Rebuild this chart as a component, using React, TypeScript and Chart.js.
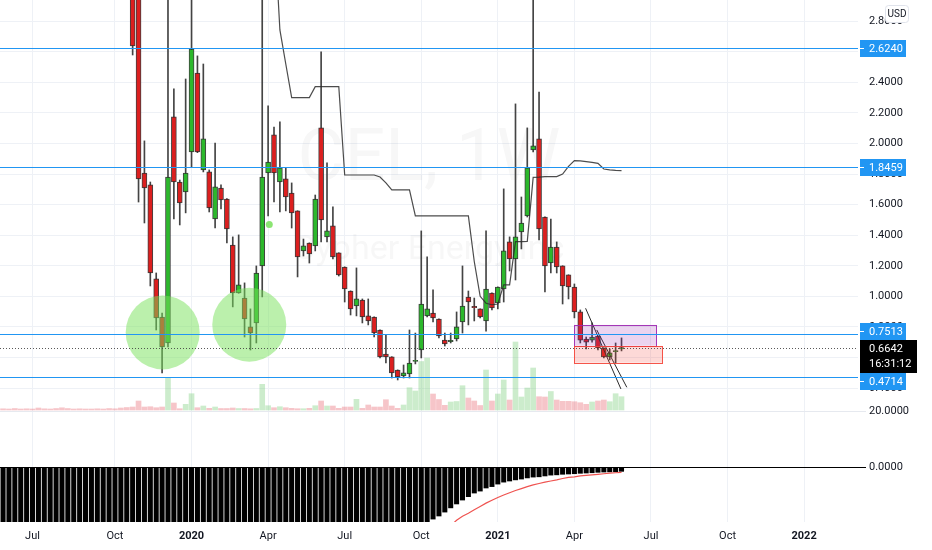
import { useEffect, useRef } from 'react';
import { Chart, registerables } from 'chart.js';

Chart.register(...registerables);

// week index 0 = week of 1 Jul 2019, one candle per week
const symbolTitle = 'CEL, 1W';
const symbolName = 'Cypher Energy Inc';

const firstCandleWeek = 17;
const opens = [
  3.25, 3.0, 1.807, 1.729, 1.114, 0.865, 0.695, 2.174, 1.748, 1.683,
  1.945, 2.461, 1.827, 1.814, 1.506, 1.709, 1.637, 1.336, 1.022, 0.989,
  0.8, 0.826, 1.199, 1.807, 2.056, 1.748, 1.768, 1.676, 1.559, 1.297,
  1.349, 1.33, 2.102, 1.389, 1.461, 1.284, 1.192, 1.035, 0.937, 0.976,
  0.872, 0.865, 0.78, 0.623, 0.604, 0.518, 0.479, 0.492, 0.574, 0.649,
  0.872, 0.891, 0.852, 0.714, 0.704, 0.721, 0.832, 0.996, 0.934, 0.918,
  0.839, 1.022, 0.957, 1.048, 1.356, 1.245, 1.421, 1.526, 1.958, 2.03,
  1.519, 1.218, 1.323, 1.199, 1.14, 1.061, 0.898, 0.721, 0.714, 0.74,
  0.662, 0.604, 0.638, 0.656,
];
const highs = [
  3.35, 3.1, 2.017, 1.748, 1.153, 0.891, 3.2, 2.357, 1.761, 2.422,
  3.1, 2.573, 2.52, 1.827, 2.003, 1.729, 1.64, 1.389, 1.402, 1.088,
  0.918, 1.199, 3.0, 2.246, 2.108, 2.141, 1.84, 1.742, 1.56, 1.375,
  1.35, 1.663, 2.599, 1.873, 1.585, 1.285, 1.193, 1.036, 1.186, 0.983,
  0.983, 0.866, 0.781, 0.747, 0.605, 0.519, 0.551, 0.78, 0.76, 1.428,
  1.258, 1.042, 0.853, 0.76, 0.76, 0.898, 1.199, 1.035, 0.989, 0.919,
  1.428, 1.023, 1.062, 1.703, 1.389, 2.259, 1.65, 2.102, 3.0, 2.337,
  1.52, 1.506, 1.356, 1.2, 1.141, 1.081, 0.911, 0.734, 0.826, 0.741,
  0.663, 0.656, 0.695, 0.728,
];
const lows = [
  2.579, 1.617, 1.48, 1.068, 0.78, 0.499, 0.669, 1.506, 1.467, 1.546,
  1.846, 1.94, 1.814, 1.552, 1.447, 1.572, 1.349, 0.931, 1.02, 0.734,
  0.649, 0.695, 0.996, 1.526, 1.617, 1.552, 1.559, 1.447, 1.127, 1.264,
  1.218, 1.297, 1.356, 1.356, 1.245, 1.133, 0.963, 0.878, 0.872, 0.826,
  0.813, 0.734, 0.597, 0.564, 0.466, 0.453, 0.466, 0.466, 0.558, 0.597,
  0.865, 0.832, 0.728, 0.675, 0.695, 0.708, 0.76, 0.813, 0.839, 0.859,
  0.773, 0.911, 0.918, 0.963, 1.166, 1.107, 1.31, 1.519, 1.945, 1.369,
  1.029, 1.153, 1.153, 0.95, 0.983, 0.859, 0.695, 0.656, 0.701, 0.649,
  0.597, 0.584, 0.564, 0.643,
];
const closes = [
  2.638, 1.768, 1.709, 1.153, 0.859, 0.669, 1.781, 1.748, 1.611, 1.807,
  2.618, 1.945, 2.03, 1.578, 1.716, 1.631, 1.441, 1.022, 1.075, 0.852,
  0.76, 1.153, 1.781, 1.879, 1.807, 1.84, 1.65, 1.546, 1.258, 1.33,
  1.277, 1.637, 1.5, 1.428, 1.258, 1.14, 1.048, 0.918, 0.983, 0.865,
  0.839, 0.76, 0.604, 0.604, 0.499, 0.473, 0.499, 0.564, 0.582, 0.95,
  0.918, 0.859, 0.741, 0.688, 0.712, 0.8, 0.937, 0.963, 0.926, 0.865,
  1.048, 0.924, 1.061, 1.297, 1.245, 1.389, 1.48, 1.84, 1.984, 1.441,
  1.199, 1.323, 1.192, 1.068, 1.061, 0.898, 0.714, 0.701, 0.734, 0.662,
  0.604, 0.63, 0.646, 0.6642,
];

// weekly volume, millions
const firstVolumeWeek = -6;
const volumes = [
  0.1, 0.12, 0.1, 0.15, 0.1, 0.12, 0.1, 0.2, 0.12, 0.1,
  0.15, 0.22, 0.15, 0.1, 0.12, 0.1, 0.1, 0.12, 0.1, 0.15,
  0.12, 0.2, 0.25,
  0.3, 0.9, 0.3, 0.33, 0.23, 0.3, 3.17, 0.7, 0.13, 0.57,
  1.63, 0.23, 0.4, 0.17, 0.3, 0.15, 0.15, 0.2, 0.15, 0.15,
  0.12, 0.15, 2.57, 0.43, 0.23, 0.33, 0.23, 0.17, 0.13, 0.13,
  0.17, 0.43, 0.9, 0.4, 0.4, 0.17, 0.3, 0.3, 1.07, 0.17,
  0.5, 0.3, 0.3, 1.03, 0.4, 0.17, 0.5, 2.23, 1.9, 4.85,
  5.2, 1.6, 1.05, 0.47, 0.8, 0.85, 2.43, 1.2, 0.9, 0.45,
  4.0, 0.9, 1.6, 3.0, 1.0, 6.8, 1.3, 2.2, 4.2, 1.33,
  1.3, 1.85, 1.0, 0.87, 0.87, 0.83, 0.73, 0.57, 0.8, 0.9,
  1.0, 0.83, 1.63, 1.33,
];

// lower pane oscillator histogram and its signal line
const firstOscWeek = -6;
const oscillator = [
  -25, -25, -25, -25, -25, -25, -25, -25, -25, -25,
  -25, -25, -25, -25, -25, -25, -25, -25, -25, -25,
  -25, -25, -25, -25, -25, -25, -25, -25, -25, -25,
  -25, -25, -25, -25, -25, -25, -25, -25, -25, -25,
  -25, -25, -25, -25, -25, -25, -25, -25, -25, -25,
  -25, -25, -25, -25, -25, -25, -25, -25, -25, -25,
  -25, -25, -25, -25, -25, -25, -25, -25, -25, -25,
  -25, -25, -25, -25,
  -18.6, -17.5, -16.1, -14.6, -13.2, -11.8, -10.6, -9.3, -8.6, -7.5,
  -7.0, -6.1, -5.4, -5.0, -4.6, -4.3, -3.9, -3.6, -3.5, -3.2,
  -2.9, -2.8, -2.6, -2.5, -2.4, -2.25, -2.15, -2.05, -1.9, -1.8,
  -1.75, -1.7, -1.55,
];
const firstSignalWeek = 70;
const signal = [
  -24, -21, -19.0, -17.6, -16.5, -15.3, -14.1, -12.9, -11.9, -10.9,
  -10.0, -9.2, -8.4, -7.7, -7.0, -6.4, -5.9, -5.4, -5.0, -4.6,
  -4.1, -3.7, -3.5, -3.2, -3.0, -2.8, -2.6, -2.4, -2.2, -2.05,
  -1.9,
];

const firstMaWeek = 41;
const movingAverage = [
  3.44, 2.743, 2.52, 2.3, 2.3, 2.3, 2.3, 2.372, 2.372, 2.372,
  2.372, 2.372, 1.794, 1.794, 1.794, 1.794, 1.794, 1.794, 1.781, 1.742,
  1.696, 1.696, 1.696, 1.696, 1.526, 1.526, 1.526, 1.526, 1.526, 1.526,
  1.526, 1.526, 1.526, 1.526, 1.228, 1.0, 0.955, 0.945, 0.95, 1.075,
  1.075, 1.358, 1.358, 1.36, 1.778, 1.78, 1.783, 1.783, 1.783, 1.8,
  1.85, 1.888, 1.886, 1.881, 1.876, 1.87, 1.833, 1.827, 1.824, 1.822,
];

const levels = [2.624, 1.8459, 0.7513, 0.4714];
const lastPrice = 0.6642;
const countdown = '16:31:12';
const currency = 'USD';

const timeTickWeeks = [0, 14, 27, 40, 53, 66, 79, 92, 105, 118, 131];
const timeTickLabels = ['Jul', 'Oct', '2020', 'Apr', 'Jul', 'Oct', '2021', 'Apr', 'Jul', 'Oct', '2022'];
const priceTicks = [0.4, 0.6, 0.8, 1.0, 1.2, 1.4, 1.6, 1.8, 2.0, 2.2, 2.4, 2.6, 2.8];
const oscTicks = [0, 20];

// drawings: [startWeek, endWeek, topPrice, bottomPrice]
const zones = [
  [92, 106, 0.813, 0.677],
  [92, 107, 0.675, 0.566],
];
const channelA = [[93.9, 0.922], [99.9, 0.394]];
const channelB = [[95.8, 0.78], [100.9, 0.405]];
const circleCentres = [[22.1, 0.764], [36.8, 0.815]];
const markerDot = [[40.2, 1.47]];

const UP = '#2cb82c';
const DOWN = '#dc1f1f';
const LEVEL = '#2196f3';
const TEXT = '#131722';
const GRID = '#eef1f6';
const FONT = 'Roboto, "Liberation Sans", sans-serif';

Chart.defaults.font.family = FONT;

const overlayPlugin = {
  id: 'overlay',
  beforeDatasetsDraw(chart: any) {
    const { ctx, chartArea } = chart;
    const pane = chart.scales.y;
    const cx = (chartArea.left + chartArea.right) / 2;
    const cy = (pane.top + pane.bottom) / 2;
    ctx.save();
    ctx.fillStyle = 'rgba(19, 23, 34, 0.035)';
    ctx.textAlign = 'center';
    ctx.textBaseline = 'middle';
    ctx.font = `72px ${FONT}`;
    ctx.fillText(symbolTitle, cx, cy - 43);
    ctx.font = `34px ${FONT}`;
    ctx.fillText(symbolName, cx, cy + 45);
    ctx.restore();
  },
  afterDatasetsDraw(chart: any) {
    const { ctx, chartArea } = chart;
    const xs = chart.scales.x;
    const ys = chart.scales.y;
    ctx.save();
    ctx.beginPath();
    ctx.rect(chartArea.left, chartArea.top, chartArea.width, chartArea.height);
    ctx.clip();

    const zoneStyles = [
      { fill: 'rgba(156, 39, 176, 0.2)', stroke: 'rgba(156, 39, 176, 0.9)' },
      { fill: 'rgba(244, 67, 54, 0.2)', stroke: 'rgba(244, 67, 54, 0.9)' },
    ];
    zones.forEach(([w0, w1, top, bottom], i) => {
      const x0 = xs.getPixelForValue(w0);
      const x1 = xs.getPixelForValue(w1);
      const y0 = ys.getPixelForValue(top);
      const y1 = ys.getPixelForValue(bottom);
      ctx.fillStyle = zoneStyles[i].fill;
      ctx.fillRect(x0, y0, x1 - x0, y1 - y0);
      ctx.strokeStyle = zoneStyles[i].stroke;
      ctx.lineWidth = 1;
      ctx.strokeRect(Math.round(x0) + 0.5, Math.round(y0) + 0.5, Math.round(x1 - x0), Math.round(y1 - y0));
    });

    ctx.strokeStyle = LEVEL;
    ctx.lineWidth = 1;
    levels.forEach((level) => {
      const py = Math.round(ys.getPixelForValue(level)) + 0.5;
      ctx.beginPath();
      ctx.moveTo(chartArea.left, py);
      ctx.lineTo(chartArea.right, py);
      ctx.stroke();
    });

    const lp = Math.round(ys.getPixelForValue(lastPrice)) + 0.5;
    ctx.strokeStyle = 'rgba(60, 60, 60, 0.85)';
    ctx.setLineDash([1, 2]);
    ctx.beginPath();
    ctx.moveTo(chartArea.left, lp);
    ctx.lineTo(chartArea.right, lp);
    ctx.stroke();
    ctx.restore();
  },
  afterDraw(chart: any) {
    const { ctx, chartArea } = chart;
    const ys = chart.scales.y;
    const boxLeft = chartArea.right + 2;
    const textLeft = chartArea.right + 11;
    ctx.save();
    ctx.font = `11px ${FONT}`;
    ctx.textBaseline = 'middle';
    ctx.textAlign = 'left';

    const lp = Math.round(ys.getPixelForValue(lastPrice));
    const lastTop = lp - 8;
    const lastBottom = lastTop + 33;

    // price labels slide away from the last-price badge, as on the original
    const drawLevel = (level: number) => {
      const py = Math.round(ys.getPixelForValue(level));
      let top = py - 8;
      if (level > lastPrice) top = Math.min(top, lastTop - 17);
      else top = Math.max(top, lastBottom);
      ctx.fillStyle = LEVEL;
      ctx.fillRect(boxLeft, top, 46, 17);
      ctx.fillStyle = '#ffffff';
      ctx.fillRect(boxLeft, top + 8, 4, 1);
      ctx.fillText(level.toFixed(4), textLeft, top + 9);
    };

    levels.filter((l) => l > lastPrice).forEach(drawLevel);

    ctx.fillStyle = '#000000';
    ctx.fillRect(boxLeft, lastTop, 57, 33);
    ctx.fillStyle = '#ffffff';
    ctx.fillText(lastPrice.toFixed(4), textLeft, lp + 1);
    ctx.fillText(countdown, textLeft, lp + 16);

    levels.filter((l) => l < lastPrice).forEach(drawLevel);

    // currency badge
    ctx.fillStyle = '#ffffff';
    ctx.strokeStyle = '#e0e3eb';
    ctx.lineWidth = 1;
    ctx.beginPath();
    ctx.roundRect(chartArea.right + 27.5, 5.5, 23, 17, 3);
    ctx.fill();
    ctx.stroke();
    ctx.fillStyle = TEXT;
    ctx.font = `10px ${FONT}`;
    ctx.textAlign = 'center';
    ctx.fillText(currency, chartArea.right + 39, 14.5);
    ctx.restore();
  },
};

export default function App() {
  const chartRef = useRef<HTMLCanvasElement>(null);
  const chartInstance = useRef<Chart | null>(null);

  useEffect(() => {
    if (!chartRef.current) return;
    if (chartInstance.current) chartInstance.current.destroy();

    const weeks = opens.map((_, i) => firstCandleWeek + i);
    const rising = opens.map((o, i) => closes[i] >= o);
    const volumeRising = volumes.map((_, i) => {
      const c = firstVolumeWeek + i - firstCandleWeek;
      return c >= 0 ? rising[c] : false;
    });

    const zeroPadding = (s: any) => {
      s.paddingTop = 0;
      s.paddingBottom = 0;
      s.paddingLeft = 0;
      s.paddingRight = 0;
    };

    chartInstance.current = new Chart(chartRef.current, {
      type: 'bar',
      data: {
        datasets: [
          {
            type: 'scatter',
            label: 'Circles',
            data: circleCentres.map(([x, y]) => ({ x, y })),
            pointRadius: 37,
            pointHoverRadius: 37,
            pointBackgroundColor: 'rgba(120, 225, 90, 0.5)',
            backgroundColor: 'rgba(120, 225, 90, 0.5)',
            pointBorderWidth: 0,
            borderWidth: 0,
            order: 0,
          },
          {
            type: 'scatter',
            label: 'Marker',
            data: markerDot.map(([x, y]) => ({ x, y })),
            pointRadius: 3.5,
            pointBackgroundColor: 'rgba(120, 225, 90, 0.85)',
            backgroundColor: 'rgba(120, 225, 90, 0.85)',
            pointBorderWidth: 0,
            borderWidth: 0,
            order: 0,
          },
          {
            type: 'line',
            label: 'Channel A',
            data: channelA.map(([x, y]) => ({ x, y })),
            borderColor: '#2a2a2a',
            borderWidth: 1,
            pointRadius: 0,
            order: 1,
          },
          {
            type: 'line',
            label: 'Channel B',
            data: channelB.map(([x, y]) => ({ x, y })),
            borderColor: '#2a2a2a',
            borderWidth: 1,
            pointRadius: 0,
            order: 1,
          },
          {
            type: 'line',
            label: 'MA',
            data: movingAverage.map((v, i) => ({ x: firstMaWeek + i, y: v })),
            borderColor: 'rgba(45, 45, 45, 0.85)',
            borderWidth: 1.2,
            pointRadius: 0,
            tension: 0,
            order: 2,
          },
          {
            type: 'bar',
            label: 'Body',
            data: weeks.map((w, i) => ({ x: w, y: [opens[i], closes[i]] })) as any,
            backgroundColor: rising.map((r) => (r ? UP : DOWN)),
            borderColor: 'rgba(30, 30, 30, 0.85)',
            borderWidth: 1,
            borderSkipped: false,
            barThickness: 5,
            grouped: false,
            order: 3,
          },
          {
            type: 'bar',
            label: 'Wick',
            data: weeks.map((w, i) => ({ x: w, y: [lows[i], highs[i]] })) as any,
            backgroundColor: '#444444',
            barThickness: 1,
            grouped: false,
            order: 4,
          },
          {
            type: 'bar',
            label: 'Volume',
            yAxisID: 'yVol',
            data: volumes.map((v, i) => ({ x: firstVolumeWeek + i, y: [0, v] })) as any,
            backgroundColor: volumeRising.map((r) => (r ? 'rgba(110, 200, 110, 0.35)' : 'rgba(230, 90, 100, 0.35)')),
            barThickness: 5,
            grouped: false,
            order: 5,
          },
          {
            type: 'bar',
            label: 'Oscillator',
            yAxisID: 'yOsc',
            data: oscillator.map((v, i) => ({ x: firstOscWeek + i, y: [0, v] })) as any,
            backgroundColor: '#000000',
            barThickness: 4.4,
            grouped: false,
            order: 6,
          },
          {
            type: 'line',
            label: 'Signal',
            yAxisID: 'yOsc',
            data: signal.map((v, i) => ({ x: firstSignalWeek + i, y: v })),
            borderColor: '#ef5350',
            borderWidth: 1.2,
            pointRadius: 0,
            order: 1,
          },
        ] as any,
      },
      options: {
        animation: false,
        responsive: true,
        maintainAspectRatio: false,
        events: [],
        layout: { padding: 0, autoPadding: false },
        plugins: {
          legend: { display: false },
          tooltip: { enabled: false },
        },
        scales: {
          x: {
            type: 'linear',
            min: -5.52,
            max: 140.15,
            offset: false,
            grid: { color: GRID, drawTicks: false, offset: false },
            border: { display: false },
            ticks: {
              padding: 8,
              color: TEXT,
              autoSkip: false,
              maxRotation: 0,
              font: (ctx: any) => ({
                size: 11,
                weight: /^\d{4}$/.test(timeTickLabels[ctx.index] || '') ? 'bold' : 'normal',
              }),
              callback: (_v: any, i: number) => timeTickLabels[i],
            },
            afterBuildTicks: (s: any) => {
              s.ticks = timeTickWeeks.map((value) => ({ value }));
            },
            afterFit: (s: any) => {
              s.height = 28;
              zeroPadding(s);
            },
          },
          // price pane (top) and oscillator pane (bottom) share the right edge
          y: {
            type: 'linear',
            position: 'right',
            stack: 'panes',
            stackWeight: 410,
            min: 0.2565,
            max: 2.9387,
            grid: { color: GRID, drawTicks: false },
            border: { display: false },
            ticks: {
              padding: 11,
              color: TEXT,
              autoSkip: false,
              font: { size: 11 },
              callback: (v: any) => Number(v).toFixed(4),
            },
            afterBuildTicks: (s: any) => {
              s.ticks = priceTicks.map((value) => ({ value }));
            },
            afterFit: (s: any) => {
              s.width = 74;
              zeroPadding(s);
            },
          },
          yOsc: {
            type: 'linear',
            position: 'right',
            stack: 'panes',
            stackWeight: 112,
            min: -19.64,
            max: 20.36,
            grid: {
              color: (ctx: any) => (ctx.tick && ctx.tick.value === 0 ? '#000000' : '#e6e9ef'),
              tickLength: 8,
            },
            border: { display: false },
            ticks: {
              padding: 3,
              color: TEXT,
              autoSkip: false,
              font: { size: 11 },
              callback: (v: any) => Number(v).toFixed(4),
            },
            afterBuildTicks: (s: any) => {
              s.ticks = oscTicks.map((value) => ({ value }));
            },
            afterFit: (s: any) => {
              s.width = 74;
              zeroPadding(s);
            },
          },
          yVol: {
            type: 'linear',
            position: 'right',
            display: false,
            min: -11.2,
            max: 41,
            afterFit: (s: any) => {
              s.width = 0;
              zeroPadding(s);
            },
          },
        },
      } as any,
      plugins: [overlayPlugin],
    });

    return () => {
      if (chartInstance.current) {
        chartInstance.current.destroy();
        chartInstance.current = null;
      }
    };
  }, []);

  return (
    <div style={{ position: 'fixed', left: 0, top: 0, width: 932, height: 550, background: '#ffffff' }}>
      <canvas ref={chartRef}></canvas>
    </div>
  );
}
